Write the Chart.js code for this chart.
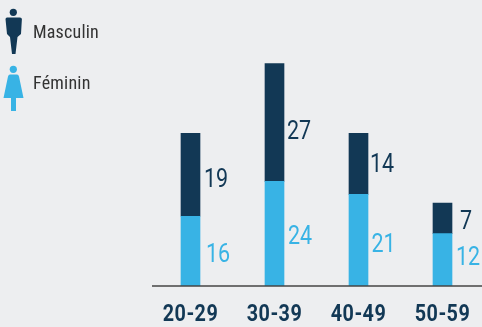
<!DOCTYPE html>
<html>
<head>
<meta charset="utf-8">
<script src="https://cdn.jsdelivr.net/npm/chart.js@4"></script>
<style>
html, body { margin: 0; padding: 0; width: 482px; height: 327px; overflow: hidden; background: #edeef0; }
canvas { position: absolute; left: 0; top: 0; }
.leg { position: absolute; left: 33px; font: 18px Roboto, sans-serif; font-stretch: condensed; letter-spacing: .2px; color: #333; line-height: 20px; }
svg { position: absolute; left: 0; top: 0; }
</style>
</head>
<body>
<canvas id="graphique" width="485" height="327"></canvas>
<svg width="40" height="120">
  <circle cx="13.3" cy="12.3" r="3.6" fill="#123855"/>
  <path d="M7 17.5h13q1.7 0 1.9 1.5L21 34l-3.5 3-2 17h-3.5l-2-17-3-3L5.5 19q.2-1.5 1.5-1.5z" fill="#123855"/>
  <circle cx="13.3" cy="69.3" r="3.6" fill="#38b3e5"/>
  <path d="M10 74.5h7q1.5 0 2 2L23.5 98h-7.500v13h-5v-13h-7.500L8 76.500q.5-2 2-2z" fill="#38b3e5"/>
</svg>
<div class="leg" style="top:22px">Masculin</div>
<div class="leg" style="top:73px">Féminin</div>
<script>
var categories = ['20-29', '30-39', '40-49', '50-59']
var feminin = [16, 24, 21, 12]
var masculin = [19, 27, 14, 7]

var darkBlue = '#123855'
var lightBlue = '#38b3e5'
// decalage des chiffres par rapport aux barres, comme sur l'original
var nudgeY = [[5, 4, 6, -1], [6, 10, 2, 4]]
var nudgeX = [[27.5, 25.5, 25, 25.5], [25.5, 24.5, 23.5, 23.5]]

// Roboto est trop large : on serre le texte a la main
function squeezed(ctx, text, x, y, sx) {
    ctx.save()
    ctx.translate(x, y)
    ctx.scale(sx, 1)
    ctx.fillText(text, 0, 0)
    ctx.restore()
}

var sideLabels = {
    id: 'sideLabels',
    afterDatasetsDraw: function (chart) {
        var ctx = chart.ctx
        var x = chart.scales.x
        ctx.save()
        ctx.strokeStyle = '#444'
        ctx.lineWidth = 1.5
        ctx.beginPath()
        ctx.moveTo(152, x.top)
        ctx.lineTo(482, x.top)
        ctx.stroke()
        ctx.textAlign = 'center'
        ctx.textBaseline = 'middle'
        ctx.font = '25px Roboto'
        chart.data.datasets.forEach(function (ds, d) {
            chart.getDatasetMeta(d).data.forEach(function (bar, i) {
                ctx.fillStyle = ds.backgroundColor
                squeezed(ctx, ds.data[i], bar.x + nudgeX[d][i], (bar.y + bar.base) / 2 + nudgeY[d][i], 0.86)
            })
        })
        ctx.font = 'bold 23px Roboto'
        ctx.fillStyle = darkBlue
        ctx.letterSpacing = '0.5px'
        categories.forEach(function (c, i) {
            squeezed(ctx, c, x.getPixelForTick(i), 315, 0.86)
        })
        ctx.restore()
    }
}

var chart = new Chart(document.getElementById('graphique'), {
    type: 'bar',
    data: {
        labels: categories,
        datasets: [
            { label: 'Féminin', data: feminin, backgroundColor: lightBlue, barThickness: 19 },
            { label: 'Masculin', data: masculin, backgroundColor: darkBlue, barThickness: 19 }
        ]
    },
    plugins: [sideLabels],
    options: {
        responsive: false,
        animation: false,
        layout: { padding: { left: 148.5, right: 0.5, top: 2.5, bottom: 0 } },
        plugins: { legend: { display: false }, tooltip: { enabled: false } },
        scales: {
            x: {
                stacked: true,
                grid: { display: false, drawTicks: false },
                border: { display: false },
                afterFit: function (s) { s.height = 41 },
                ticks: { display: false }
            },
            y: { stacked: true, display: false, min: 0, max: 65 }
        }
    }
})
</script>
</body>
</html>
